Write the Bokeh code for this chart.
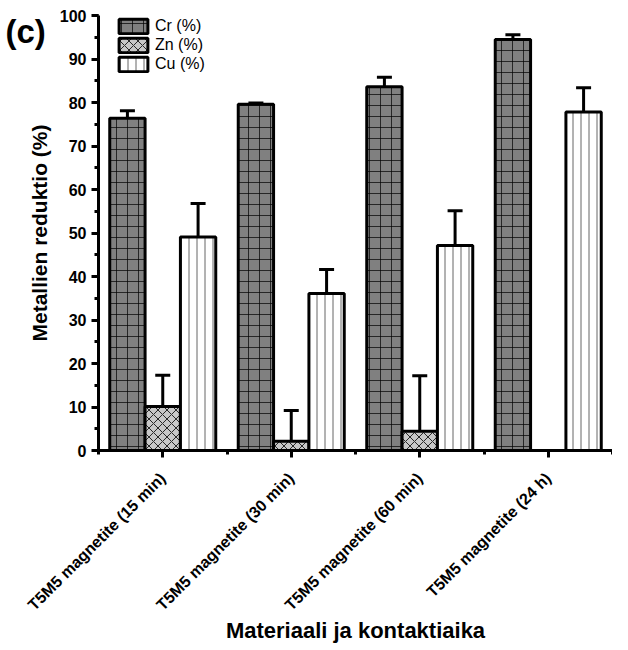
import math
from bokeh.plotting import figure
from bokeh.models import (ColumnDataSource, Whisker, TeeHead, FixedTicker, SingleIntervalTicker,
                          Range1d, Legend, LegendItem)
from bokeh.embed import file_html
from bokeh.resources import INLINE

categories = ["T5M5 magnetite (15 min)", "T5M5 magnetite (30 min)",
              "T5M5 magnetite (60 min)", "T5M5 magnetite (24 h)"]
series = ["Cr (%)", "Zn (%)", "Cu (%)"]
cr = [76.4, 79.6, 83.6, 94.5]
cr_err = [1.7, 0.3, 2.2, 1.1]
zn = [10.1, 2.1, 4.4, 0.0]
zn_err = [7.2, 7.1, 12.8, float("nan")]
cu = [49.1, 36.1, 47.1, 77.8]
cu_err = [7.7, 5.5, 8.0, 5.6]

FONT = "Liberation Sans"
H = 646
p = figure(width=612, height=H, output_backend="svg", toolbar_location=None,
           x_range=Range1d(-0.5, 3.5), y_range=Range1d(0, 100),
           min_border_left=98, min_border_right=0, min_border_top=15, min_border_bottom=196)
p.outline_line_color = None
p.grid.visible = False
p.background_fill_color = "white"

# panel letter as title, pulled into the top-left corner
p.title.text = "(c)"
p.title.text_font = FONT
p.title.text_font_style = "bold"
p.title.text_font_size = "33px"
p.title.text_color = "black"
p.title.align = "left"
p.title.vertical_align = "bottom"
p.title.offset = -93
p.title.standoff = -68

xs = list(range(len(categories)))
bw = 0.275
styles = [
    dict(fill_color="#808080", hatch_pattern="cross", hatch_color="black", hatch_alpha=0.7, hatch_scale=11, hatch_weight=1),
    dict(fill_color="#c8c8c8", hatch_pattern="diagonal_cross", hatch_color="black", hatch_alpha=0.8, hatch_scale=9, hatch_weight=1),
    dict(fill_color="white", hatch_pattern="vertical_line", hatch_color="black", hatch_alpha=0.6, hatch_scale=8, hatch_weight=1),
]
offsets = [-bw, 0.0, bw]
vals = [cr, zn, cu]
errs = [cr_err, zn_err, cu_err]
renderers = []
for k in range(3):
    xk = [x + offsets[k] for x in xs]
    src = ColumnDataSource(dict(x=xk, top=vals[k],
                                upper=[v + e for v, e in zip(vals[k], errs[k])],
                                lower=[v - e for v, e in zip(vals[k], errs[k])]))
    r = p.vbar(x="x", top="top", bottom=0, width=bw, source=src,
               line_color="black", line_width=3, **styles[k])
    renderers.append(r)
    w = Whisker(base="x", upper="upper", lower="lower", source=src, line_width=3, line_color="black",
                upper_head=TeeHead(size=15, line_width=3, line_color="black"),
                lower_head=TeeHead(size=15, line_width=3, line_color="black"))
    p.add_layout(w)

legend = Legend(items=[LegendItem(label=series[k], renderers=[renderers[k]]) for k in range(3)],
                glyph_width=36, glyph_height=18, spacing=1, padding=0, margin=0,
                border_line_color=None, background_fill_alpha=0,
                label_text_font=FONT, label_text_font_size="16px", label_text_color="black",
                label_standoff=4, label_height=18)
legend.location = (17, 435 - 58)
p.add_layout(legend)

p.xaxis.ticker = FixedTicker(ticks=xs, minor_ticks=[-0.5, 0.5, 1.5, 2.5, 3.5])
p.xaxis.major_label_overrides = {i: c for i, c in enumerate(categories)}
p.xaxis.major_label_orientation = math.pi / 4
p.yaxis.ticker = SingleIntervalTicker(interval=10, num_minor_ticks=2)
for ax in (p.xaxis, p.yaxis):
    ax.axis_line_width = 3
    ax.major_tick_line_width = 3
    ax.minor_tick_line_width = 3
    ax.major_tick_in = 0
    ax.major_tick_out = 7
    ax.minor_tick_in = 0
    ax.minor_tick_out = 4
    ax.major_label_text_font = FONT
    ax.major_label_text_font_style = "bold"
    ax.major_label_text_color = "black"
    ax.axis_label_text_font = FONT
    ax.axis_label_text_font_style = "bold"
    ax.axis_label_text_color = "black"
p.xaxis.major_label_text_font_size = "16px"
p.yaxis.major_label_text_font_size = "16px"
p.xaxis.axis_label_text_font_size = "22px"
p.yaxis.axis_label_text_font_size = "21px"
p.xaxis.major_label_standoff = 18
p.xaxis.axis_label = "Materiaali ja kontaktiaika"
p.yaxis.axis_label = "Metallien reduktio (%)"
p.xaxis.axis_label_standoff = -5
p.yaxis.axis_label_standoff = 6

open("out.html", "w").write(file_html(p, INLINE))
